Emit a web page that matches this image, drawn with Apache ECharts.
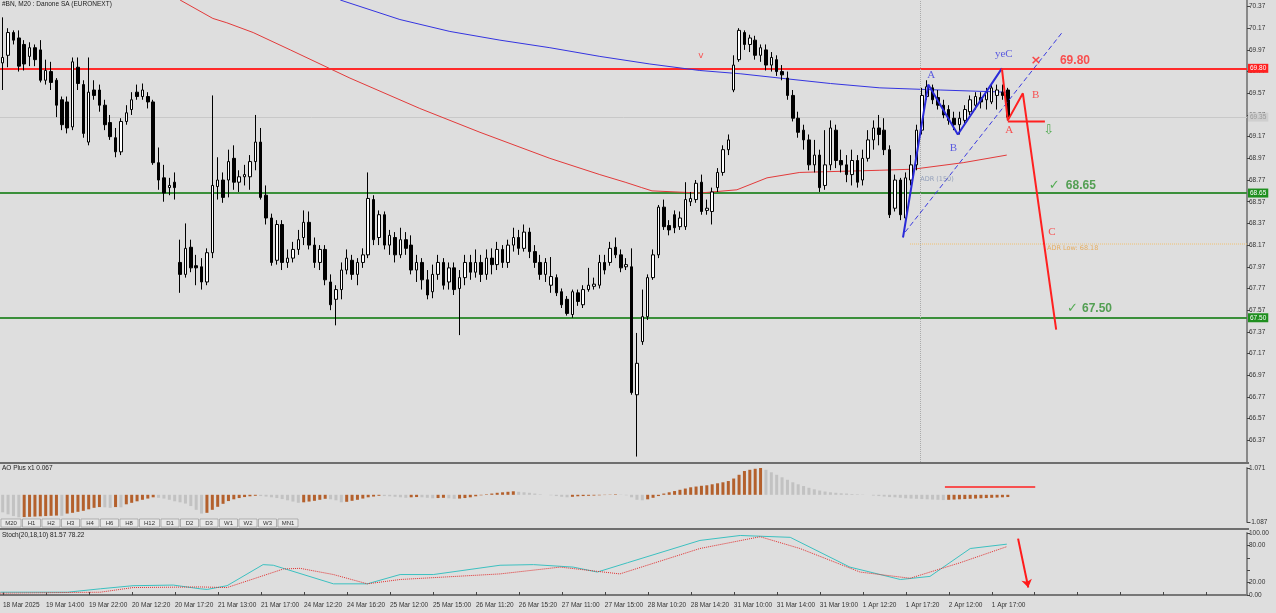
<!DOCTYPE html>
<html><head><meta charset="utf-8">
<script src="https://cdn.jsdelivr.net/npm/echarts/dist/echarts.min.js"></script>
<style>html,body{margin:0;padding:0;background:#dedede;overflow:hidden}#c{width:1276px;height:613px}</style>
</head><body><div id="c"></div>
<script>
// ---------- data ----------
const titleText = '#BN, M20 : Danone SA (EURONEXT)';
const aoTitle = 'AO Plus x1 0.067';
const stochTitle = 'Stoch(20,18,10) 81.57 78.22';
const xTickLabels = ['18 Mar 2025','19 Mar 14:00','19 Mar 22:00','20 Mar 12:20','20 Mar 17:20','21 Mar 13:00','21 Mar 17:00','24 Mar 12:20','24 Mar 16:20','25 Mar 12:00','25 Mar 15:00','26 Mar 11:20','26 Mar 15:20','27 Mar 11:00','27 Mar 15:00','28 Mar 10:20','28 Mar 14:20','31 Mar 10:00','31 Mar 14:00','31 Mar 19:00','1 Apr 12:20','1 Apr 17:20','2 Apr 12:00','1 Apr 17:00'];
const timeframes = ['M20','H1','H2','H3','H4','H6','H8','H12','D1','D2','D3','W1','W2','W3','MN1'];
// [open, close, low, high]
const candles = [
[69.85,69.90,69.60,70.27],[69.92,70.13,69.81,70.17],[70.13,70.06,70.02,70.15],[70.08,69.82,69.77,70.15],[70.02,69.84,69.78,70.06],
[69.91,69.99,69.82,70.04],[69.99,69.88,69.82,70.02],[69.97,69.69,69.67,70.06],[69.69,69.78,69.65,69.88],[69.77,69.67,69.60,69.86],
[69.69,69.46,69.35,69.71],[69.51,69.28,69.23,69.54],[69.49,69.25,69.20,69.54],[69.26,69.86,69.23,69.90],[69.81,69.66,69.60,69.90],
[69.65,69.20,69.16,69.69],[69.12,69.58,69.09,69.90],[69.60,69.55,69.51,69.69],[69.60,69.46,69.40,69.65],[69.46,69.28,69.23,69.51],
[69.30,69.17,69.14,69.37],[69.16,69.03,68.98,69.25],[69.03,69.31,69.00,69.34],[69.31,69.39,69.28,69.46],[69.42,69.51,69.37,69.58],
[69.58,69.54,69.51,69.65],[69.54,69.60,69.51,69.66],[69.54,69.49,69.43,69.58],[69.49,68.93,68.91,69.51],[68.93,68.77,68.68,69.07],
[68.79,68.65,68.57,68.91],[68.70,68.72,68.63,68.79],[68.75,68.70,68.59,68.84],[68.01,67.90,67.73,68.22],[67.90,68.14,67.87,68.37],
[68.15,67.96,67.92,68.22],[67.98,67.96,67.80,68.08],[67.97,67.83,67.76,68.05],[67.83,68.10,67.80,68.14],[68.10,68.72,68.05,69.55],
[68.71,68.77,68.59,68.98],[68.77,68.61,68.56,68.84],[68.77,68.94,68.61,69.05],[68.97,68.75,68.68,69.09],[68.75,68.80,68.66,68.86],
[68.80,68.82,68.72,68.91],[68.80,68.94,68.68,69.00],[68.94,69.12,68.86,69.37],[69.12,68.61,68.59,69.25],[68.63,68.42,68.36,68.72],
[68.42,68.01,67.98,68.46],[68.03,68.36,67.99,68.40],[68.36,68.01,67.94,68.40],[68.01,68.05,67.96,68.13],[68.05,68.13,68.01,68.20],
[68.13,68.22,68.08,68.31],[68.24,68.38,68.17,68.49],[68.38,68.17,68.13,68.48],[68.17,68.01,67.96,68.24],[68.01,68.13,67.94,68.17],
[68.13,67.85,67.80,68.17],[67.83,67.62,67.57,67.90],[67.67,67.76,67.43,67.80],[67.76,67.94,67.67,68.01],[67.94,68.05,67.90,68.13],
[68.03,67.90,67.85,68.08],[67.90,68.01,67.80,68.05],[68.01,68.08,67.96,68.14],[68.08,68.60,68.05,68.84],[68.59,68.22,68.17,68.63],
[68.24,68.45,68.17,68.49],[68.45,68.17,68.13,68.48],[68.17,68.26,68.08,68.31],[68.24,68.08,68.01,68.29],[68.08,68.22,68.05,68.33],
[68.22,68.14,68.08,68.29],[68.17,67.94,67.90,68.26],[67.94,68.01,67.83,68.08],[68.01,67.85,67.76,68.05],[67.85,67.71,67.67,67.94],
[67.74,67.90,67.68,67.99],[67.90,68.01,67.85,68.08],[68.01,67.80,67.76,68.05],[67.83,67.96,67.76,68.01],[67.96,67.76,67.71,68.01],
[67.77,67.87,67.34,67.94],[67.87,68.01,67.80,68.08],[68.01,67.92,67.85,68.08],[67.92,68.01,67.87,68.13],[68.01,67.90,67.83,68.08],
[67.90,68.05,67.85,68.13],[68.05,67.99,67.90,68.14],[67.99,68.13,67.94,68.20],[68.13,68.01,67.96,68.17],[68.01,68.17,67.96,68.22],
[68.17,68.24,68.11,68.33],[68.24,68.14,68.08,68.31],[68.14,68.29,68.11,68.36],[68.29,68.11,68.05,68.33],[68.11,68.01,67.96,68.17],
[68.01,67.90,67.85,68.08],[67.90,68.01,67.83,68.05],[67.80,67.88,67.73,68.06],[67.87,67.73,67.70,67.90],[67.74,67.62,67.59,67.77],
[67.67,67.54,67.52,67.70],[67.53,67.74,67.50,67.76],[67.73,67.65,67.61,67.76],[67.62,67.76,67.59,67.80],[67.76,67.80,67.74,67.96],
[67.79,67.81,67.76,67.87],[67.80,68.01,67.77,68.08],[68.01,67.94,67.90,68.08],[68.01,68.14,67.98,68.20],[68.15,68.08,68.05,68.24],
[68.08,67.96,67.92,68.13],[67.97,67.99,67.94,68.05],[67.97,66.81,66.79,68.14],[66.79,67.08,66.22,67.36],[67.28,67.51,67.25,67.76],
[67.51,67.87,67.48,67.90],[67.87,68.08,67.85,68.13],[68.08,68.52,68.05,68.54],[68.52,68.34,68.31,68.59],[68.35,68.31,68.26,68.40],
[68.45,68.33,68.28,68.49],[68.34,68.42,68.31,68.48],[68.34,68.59,68.31,68.75],[68.57,68.60,68.53,68.66],[68.59,68.74,68.56,68.77],
[68.75,68.48,68.45,68.82],[68.49,68.51,68.45,68.59],[68.48,68.66,68.36,68.70],[68.70,68.84,68.66,68.88],[68.84,69.05,68.81,69.09],
[69.05,69.14,69.00,69.19],[69.60,69.83,69.58,69.92],[69.88,70.15,69.86,70.17],[70.13,70.02,69.97,70.15],[70.02,70.08,69.95,70.11],
[70.06,69.92,69.88,70.10],[69.92,69.99,69.86,70.02],[69.97,69.83,69.78,70.02],[69.83,69.90,69.77,69.95],[69.88,69.77,69.73,69.92],
[69.77,69.74,69.69,69.83],[69.71,69.55,69.51,69.77],[69.55,69.34,69.31,69.60],[69.34,69.21,69.16,69.40],[69.23,69.14,69.05,69.28],
[69.14,68.91,68.86,69.19],[68.91,69.00,68.84,69.14],[69.00,68.70,68.66,69.05],[68.72,68.91,68.68,69.23],[68.91,69.25,68.86,69.32],
[69.23,68.95,68.88,69.28],[68.95,68.91,68.84,69.05],[68.91,68.82,68.75,69.00],[68.82,68.95,68.72,69.05],[68.95,68.75,68.70,69.00],
[68.77,68.97,68.72,69.05],[68.97,69.14,68.94,69.23],[69.14,69.25,69.05,69.32],[69.25,69.19,69.09,69.37],[69.23,69.05,69.00,69.34],
[69.05,68.45,68.42,69.09],[68.51,68.77,68.48,68.82],[68.77,68.45,68.40,68.79],[68.42,68.79,68.38,68.84],[68.77,68.91,68.72,69.00],
[68.91,69.23,68.86,69.28],[69.23,69.55,69.19,69.62],[69.54,69.63,69.51,69.69],[69.62,69.51,69.47,69.65],[69.53,69.46,69.42,69.60],
[69.46,69.37,69.34,69.51],[69.42,69.32,69.28,69.46],[69.34,69.28,69.23,69.40],[69.28,69.34,69.19,69.40],[69.32,69.42,69.29,69.46],
[69.40,69.51,69.37,69.55],[69.46,69.54,69.42,69.58],[69.53,69.49,69.43,69.58],[69.51,69.58,69.42,69.62],[69.49,69.62,69.47,69.65],
[69.55,69.60,69.42,69.65],[69.58,69.55,69.51,69.65],[69.60,69.35,69.32,69.62]
];
const emptySlots = 44; // free space right of the last bar
// moving averages, [bar index, price]
const maRed = [[33.0,70.43],[39.1,70.26],[41.7,70.22],[46.6,70.13],[53.5,69.97],[64.6,69.71],[77.6,69.43],[88.8,69.21],[101.8,68.97],[111.1,68.82],[115.8,68.75],[118.9,68.70],[120.8,68.67],[129.7,68.65],[136.6,68.68],[142.2,68.79],[148.3,68.84],[163.2,68.86],[169.4,68.87],[178.7,68.93],[186.8,69.00]];
const maBlue = [[62.8,70.43],[73.9,70.25],[83.2,70.14],[92.5,70.06],[101.8,69.99],[111.1,69.91],[120.4,69.84],[129.7,69.78],[137.2,69.75],[144.6,69.71],[154.0,69.66],[163.2,69.62],[174.4,69.60],[186.8,69.58]];
// levels
const resistance = 69.80;
const supports = [68.65, 67.50];
const lastPrice = 69.35;
const adrLow = 68.18;
const adrLowStart = 168.8;
const verticalMark = 170.8;
// drawings
const blueWave = [[167.5,68.24],[172.2,69.65],[177.7,69.19],[185.9,69.80]];
const blueDashed = [[167.9,68.29],[197.1,70.13]];
const redWave = [[185.9,69.80],[187.0,69.32],[189.8,69.57],[196.0,67.39]];
const redFlat = [[187.0,69.31],[193.9,69.31]];
const blueNotes = [['A',172.0,69.74],['B',176.2,69.06],['yeC',184.6,69.93]];
const redNotes = [['A',186.5,69.23],['B',191.5,69.55],['C',194.5,68.29]];
const crossNotes = [['×',191.2,69.87]];
const markNotes = [['v',129.4,69.92]];
const levelNotes = [['69.80',196.7,69.87,'#ff2a2a'],['68.65',197.8,68.72,'#2f8f2f'],['67.50',200.8,67.58,'#2f8f2f']];
const tickNotes = [['✓',194.6,68.72],['✓',198.0,67.58],['⇩',193.6,69.23]];
const adrNotes = [['ADR Low: 68.18',194.3,68.14,'#e8a040'],['ADR (150)',170.7,68.78,'#7f8fb0']];
// Awesome oscillator, one value per bar
const ao = [
-0.70,-0.78,-0.85,-0.90,
-0.89,-0.88,-0.87,-0.86,-0.85,-0.84,-0.83,
-0.84,
-0.75,-0.72,-0.68,-0.64,-0.58,-0.52,-0.49,
-0.50,-0.52,-0.49,-0.50,
-0.38,-0.32,-0.26,-0.20,-0.15,-0.10,
-0.12,-0.15,-0.20,-0.26,-0.30,-0.35,-0.45,-0.60,-0.75,
-0.72,-0.60,-0.48,-0.36,-0.25,
-0.18,-0.13,-0.09,-0.06,-0.04,
-0.05,-0.07,-0.10,-0.13,-0.17,-0.22,-0.27,-0.32,
-0.30,-0.27,-0.24,-0.20,-0.16,
-0.18,-0.22,-0.30,
-0.28,-0.24,-0.20,-0.15,-0.10,-0.07,-0.04,
-0.05,-0.06,-0.08,-0.10,-0.12,
-0.10,-0.09,-0.10,-0.12,-0.14,-0.13,-0.12,-0.14,-0.16,
-0.15,-0.13,-0.10,-0.06,-0.02,0.02,0.05,0.08,0.10,0.12,0.14,
0.12,0.10,0.08,0.05,0.02,0.00,-0.02,-0.05,-0.08,-0.10,
-0.08,-0.06,-0.05,-0.04,-0.03,-0.02,-0.01,0.01,0.02,0.01,-0.02,-0.10,
-0.20,-0.22,-0.18,-0.12,-0.05,
0.05,0.10,0.15,0.20,0.25,0.30,0.33,0.36,0.38,0.42,0.46,0.50,0.55,0.65,0.80,0.95,
1.00,1.04,1.07,
1.00,0.90,0.80,0.70,0.60,0.50,0.42,0.35,0.28,
0.22,0.17,0.13,0.10,0.08,0.06,0.05,0.03,0.02,0.01,
0.00,-0.03,-0.05,-0.07,-0.09,-0.10,-0.12,
-0.14,-0.15,-0.16,-0.17,-0.18,-0.19,-0.20,-0.21,
-0.20,-0.19,-0.18,-0.17,-0.16,-0.15,-0.14,-0.13,-0.12,-0.11,-0.10,-0.09
];
const aoMax = 1.071, aoMin = -1.087;
const aoLine = [[175.3,0.31],[192.1,0.31]];
// stochastic, [bar index, value]
const stochMain = [[-0.5,4.5],[12.0,4.5],[18.1,10],[24.2,15],[31.7,16],[36.7,10],[38.0,9],[41.7,15],[48.4,49],[50.3,48],[61.5,18],[67.8,18],[73.9,33],[80.1,33],[92.5,48],[98.7,49],[106.1,45],[110.6,37],[116.2,52],[129.7,88],[137.2,96],[146.5,93],[157.6,45],[167.0,25],[172.5,30],[180.0,75],[186.8,82]];
const stochSignal = [[-0.5,3],[18.1,4.5],[24.2,12],[36.7,13],[41.7,12],[52.2,42],[55.3,43],[61.5,33],[67.8,18],[73.9,25],[92.5,34],[103.7,45],[114.8,34],[129.7,75],[140.9,94],[148.3,75],[159.5,37],[168.8,27],[178.1,52],[186.8,78]];
const stochArrow = [[188.9,91],[190.8,12]];

// ---------- chart ----------
const nSlots = candles.length + emptySlots;
const cats = Array.from({length: nSlots}, (_, i) => String(i));
const W = 1276, RIGHT = 29;
const BG = '#dedede';
const FONT = 'Liberation Sans';
const brown = '#b4602c', aoGray = '#c2c2c2';

const chart = echarts.init(document.getElementById('c'), null, {renderer: 'canvas'});

function vAxis(grid) { return {type: 'value', gridIndex: grid, min: -0.5, max: nSlots - 0.5, show: false}; }
function cAxis(grid, show) {
  return {type: 'category', gridIndex: grid, data: cats, boundaryGap: true, show: show,
    axisLine: {show: show, onZero: false, lineStyle: {color: '#777', width: 2}},
    axisTick: {show: show, interval: 7, alignWithLabel: true, inside: true, length: 3, lineStyle: {color: '#444'}},
    axisLabel: {show: show, interval: 7, align: 'left', margin: 7, fontSize: 6.5, color: '#333', fontFamily: FONT,
      formatter: (v, i) => xTickLabels[Math.round(i / 8)] || ''},
    splitLine: {show: false}};
}
function yAx(grid, extra) {
  return Object.assign({type: 'value', gridIndex: grid, position: 'right',
    axisLine: {show: true, onZero: false, lineStyle: {color: '#888', width: 2}},
    axisTick: {show: true, length: 3, lineStyle: {color: '#444'}},
    splitLine: {show: false}}, extra);
}
function noteSeries(list, color, size, weight, family) {
  return {type: 'scatter', xAxisIndex: 1, yAxisIndex: 0, symbolSize: 0, silent: true, z: 20,
    data: list.map(n => ({value: [n[1], n[2]], label: {show: true, formatter: n[0], position: 'inside', align: 'left',
      color: n[3] || color, fontSize: size, fontWeight: weight, fontFamily: family || 'DejaVu Sans'}}))};
}
function levelLine(v, color, type, width, boxBg, boxColor) {
  return {yAxis: v, lineStyle: {color: color, type: type, width: width},
    label: {show: true, position: 'end', distance: 1, formatter: v.toFixed(2), backgroundColor: boxBg, color: boxColor,
      fontSize: 6.5, padding: [1, 2], fontFamily: FONT}};
}

const tfGraphics = [];
let tx = 1;
timeframes.forEach(t => {
  const w = t.length > 2 ? 20 : 18;
  tfGraphics.push({type: 'rect', shape: {x: tx, y: 519, width: w, height: 8}, style: {fill: '#e8e8e8', stroke: '#999', lineWidth: 0.7}, z: 30});
  tfGraphics.push({type: 'text', x: tx + w / 2, y: 520, style: {text: t, fill: '#333', fontSize: 6, fontFamily: FONT, textAlign: 'center'}, z: 31});
  tx += w + 1.5;
});

const option = {
  animation: false,
  backgroundColor: BG,
  grid: [
    {left: 0, right: RIGHT, top: 0, height: 462},
    {left: 0, right: RIGHT, top: 468, height: 54},
    {left: 0, right: RIGHT, top: 533, height: 62}
  ],
  xAxis: [cAxis(0, false), vAxis(0), cAxis(1, false), vAxis(1), cAxis(2, true), vAxis(2)],
  yAxis: [
    yAx(0, {min: 66.17, max: 70.43, interval: 0.2,
      axisLabel: {fontSize: 6.5, color: '#333', margin: 2, fontFamily: FONT, showMaxLabel: false, showMinLabel: false, formatter: v => v.toFixed(2)}}),
    yAx(1, {min: aoMin, max: aoMax, interval: aoMax - aoMin,
      axisLabel: {fontSize: 6.5, color: '#333', margin: 2, fontFamily: FONT, formatter: v => v.toFixed(3)}}),
    yAx(2, {min: 0, max: 100, interval: 20,
      axisLabel: {fontSize: 6.5, color: '#333', margin: 2, fontFamily: FONT, formatter: v => (v === 40 || v === 60) ? '' : v.toFixed(2)}})
  ],
  series: [
    {type: 'candlestick', xAxisIndex: 0, yAxisIndex: 0, data: candles, barWidth: 3, z: 5,
      itemStyle: {color: '#ffffff', color0: '#000000', borderColor: '#000000', borderColor0: '#000000', borderWidth: 1},
      markLine: {silent: true, symbol: 'none', z: 3, data: [
        levelLine(lastPrice, '#c8c8c8', 'solid', 1, '#cfcfcf', '#999'),
        levelLine(resistance, '#ff2a2a', 'solid', 2, '#ff2020', '#fff'),
        levelLine(supports[0], '#3a8f3a', 'solid', 2, '#1f8f1f', '#fff'),
        levelLine(supports[1], '#3a8f3a', 'solid', 2, '#1f8f1f', '#fff')
      ]}},
    {type: 'line', xAxisIndex: 1, yAxisIndex: 0, data: maRed, symbol: 'none', lineStyle: {color: '#e23a3a', width: 1}, z: 4, silent: true},
    {type: 'line', xAxisIndex: 1, yAxisIndex: 0, data: maBlue, symbol: 'none', lineStyle: {color: '#3434e0', width: 1}, z: 4, silent: true},
    {type: 'line', xAxisIndex: 1, yAxisIndex: 0, data: [[adrLowStart, adrLow], [nSlots - 0.5, adrLow]], symbol: 'none', lineStyle: {color: '#f0c070', width: 1, type: 'dotted'}, z: 2, silent: true,
      markLine: {silent: true, symbol: 'none', data: [{xAxis: verticalMark, lineStyle: {color: '#aaaaaa', type: 'dotted', width: 1}, label: {show: false}}]}},
    {type: 'line', xAxisIndex: 1, yAxisIndex: 0, data: blueWave, symbol: 'none', lineStyle: {color: '#2a2ad8', width: 2}, z: 8, silent: true},
    {type: 'line', xAxisIndex: 1, yAxisIndex: 0, data: blueDashed, symbol: 'none', lineStyle: {color: '#3a3ae0', width: 1, type: [5, 3]}, z: 8, silent: true},
    {type: 'line', xAxisIndex: 1, yAxisIndex: 0, data: redWave, symbol: 'none', lineStyle: {color: '#ff2020', width: 2}, z: 8, silent: true},
    {type: 'line', xAxisIndex: 1, yAxisIndex: 0, data: redFlat, symbol: 'none', lineStyle: {color: '#ff2020', width: 2}, z: 8, silent: true},
    noteSeries(blueNotes, '#3a3ae0', 11, 'normal', 'Liberation Serif'),
    noteSeries(redNotes, '#ff2a2a', 11, 'normal', 'Liberation Serif'),
    noteSeries(crossNotes, '#ff2020', 13, 'bold'),
    noteSeries(markNotes, '#ff3030', 9, 'normal'),
    noteSeries(levelNotes, '#2f8f2f', 12, 'bold', 'Liberation Sans'),
    noteSeries(tickNotes, '#2f9f2f', 13, 'normal'),
    noteSeries(adrNotes, '#e8a040', 6.5, 'normal'),
    {type: 'bar', xAxisIndex: 2, yAxisIndex: 1, data: ao, barWidth: 3, silent: true,
      itemStyle: {color: p => (p.dataIndex > 0 && ao[p.dataIndex] > ao[p.dataIndex - 1]) ? brown : aoGray}},
    {type: 'line', xAxisIndex: 3, yAxisIndex: 1, data: aoLine, symbol: 'none', lineStyle: {color: '#ff2020', width: 1.5}, silent: true},
    {type: 'line', xAxisIndex: 5, yAxisIndex: 2, data: stochMain, symbol: 'none', lineStyle: {color: '#3cc0c0', width: 1}, silent: true},
    {type: 'line', xAxisIndex: 5, yAxisIndex: 2, data: stochSignal, symbol: 'none', lineStyle: {color: '#e03030', width: 1, type: 'dotted'}, silent: true,
      markLine: {silent: true, symbol: ['none', 'arrow'], symbolSize: 8, data: [[{coord: stochArrow[0]}, {coord: stochArrow[1]}]],
        lineStyle: {color: '#ff1a1a', width: 2, type: 'solid'}, label: {show: false}}}
  ],
  graphic: [
    {type: 'rect', shape: {x: 0, y: 462, width: W - RIGHT + 2, height: 2}, style: {fill: '#6e6e6e'}, z: 40},
    {type: 'rect', shape: {x: 0, y: 528, width: W - RIGHT + 2, height: 2}, style: {fill: '#6e6e6e'}, z: 40},
    {type: 'text', x: 2, y: 1, style: {text: titleText, fill: '#222', fontSize: 6.5, fontFamily: FONT}, z: 40},
    {type: 'text', x: 2, y: 465, style: {text: aoTitle, fill: '#222', fontSize: 6.5, fontFamily: FONT}, z: 40},
    {type: 'text', x: 2, y: 532, style: {text: stochTitle, fill: '#222', fontSize: 6.5, fontFamily: FONT}, z: 40}
  ].concat(tfGraphics)
};
chart.setOption(option);
</script>
</body></html>
